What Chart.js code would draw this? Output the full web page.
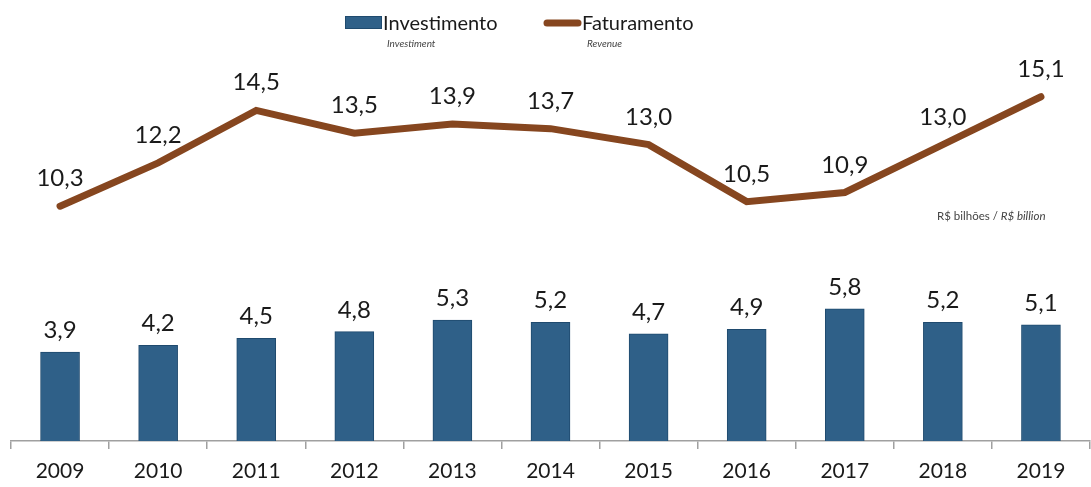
<!DOCTYPE html>
<html>
<head>
<meta charset="utf-8">
<script src="https://cdn.jsdelivr.net/npm/chart.js@4"></script>
<style>
  html, body { margin: 0; padding: 0; background: #fff; }
  #wrap { width: 1091px; height: 487px; position: relative; }
</style>
</head>
<body>
<div id="wrap"><canvas id="chart"></canvas></div>
<script>
var anos = ["2009", "2010", "2011", "2012", "2013", "2014", "2015", "2016", "2017", "2018", "2019"];
var investimento = [3.9, 4.2, 4.5, 4.8, 5.3, 5.2, 4.7, 4.9, 5.8, 5.2, 5.1];
var faturamento = [10.3, 12.2, 14.5, 13.5, 13.9, 13.7, 13.0, 10.5, 10.9, 13.0, 15.1];

var AZUL = "#2f6088";
var MARROM = "#86461f";
var FONTE = "Lato, 'Open Sans', sans-serif";

function fmt(v) {
    return v.toFixed(1).replace(".", ",");
}

// rotulos de valor acima das barras e dos pontos
var rotulos = {
    id: "rotulos",
    afterDatasetsDraw: function (chart) {
        var ctx = chart.ctx;
        ctx.save();
        ctx.font = "24px " + FONTE;
        ctx.fillStyle = "#1a1a1a";
        ctx.textAlign = "center";
        ctx.textBaseline = "alphabetic";
        chart.data.datasets.forEach(function (ds, i) {
            var meta = chart.getDatasetMeta(i);
            var gap = ds.type === "line" ? 20 : 14;
            meta.data.forEach(function (el, j) {
                ctx.fillText(fmt(ds.data[j]), el.x, el.y - gap);
            });
        });
        ctx.restore();
    }
};

// legenda e nota de unidade
var legenda = {
    id: "legenda",
    afterDraw: function (chart) {
        var ctx = chart.ctx;
        ctx.save();
        ctx.fillStyle = AZUL;
        ctx.fillRect(345, 16, 37, 13);
        ctx.strokeStyle = "#1f4a6e";
        ctx.lineWidth = 1;
        ctx.strokeRect(345.5, 16.5, 36, 12);

        ctx.strokeStyle = MARROM;
        ctx.lineWidth = 7;
        ctx.lineCap = "round";
        ctx.beginPath();
        ctx.moveTo(547, 23);
        ctx.lineTo(578, 23);
        ctx.stroke();

        ctx.fillStyle = "#1a1a1a";
        ctx.textAlign = "left";
        ctx.textBaseline = "alphabetic";
        ctx.font = "20px " + FONTE;
        ctx.fillText("Investimento", 383, 30);
        ctx.fillText("Faturamento", 582, 30);

        ctx.fillStyle = "#444";
        ctx.font = "italic 10px " + FONTE;
        ctx.fillText("Investiment", 387, 47);
        ctx.fillText("Revenue", 587, 47);

        ctx.font = "11.5px " + FONTE;
        var t1 = "R$ bilhões / ";
        ctx.fillText(t1, 937, 220);
        var w = ctx.measureText(t1).width;
        ctx.font = "italic 11.5px " + FONTE;
        ctx.fillText("R$ billion", 937 + w, 220);
        ctx.restore();
    }
};

new Chart(document.getElementById("chart"), {
    type: "bar",
    data: {
        labels: anos,
        datasets: [
            {
                type: "line",
                label: "Faturamento",
                data: faturamento,
                borderColor: MARROM,
                borderWidth: 7,
                borderCapStyle: "round",
                borderJoinStyle: "miter",
                pointRadius: 0,
                tension: 0,
                order: 0
            },
            {
                type: "bar",
                label: "Investimento",
                data: investimento,
                backgroundColor: AZUL,
                borderColor: "#1f4a6e",
                borderWidth: 1,
                barThickness: 39,
                order: 1
            }
        ]
    },
    options: {
        responsive: true,
        maintainAspectRatio: false,
        animation: false,
        layout: { padding: { top: 1, left: 11, right: 1, bottom: 0 } },
        plugins: {
            legend: { display: false },
            tooltip: { enabled: false }
        },
        scales: {
            x: {
                offset: true,
                afterFit: function (scale) { scale.height = 46; },
                border: { display: true, color: "#a0a0a0", width: 1.5 },
                grid: {
                    offset: true,
                    drawOnChartArea: false,
                    drawTicks: true,
                    tickLength: 8,
                    color: "#a0a0a0",
                    lineWidth: 1.5
                },
                ticks: {
                    color: "#1a1a1a",
                    padding: 10,
                    font: { family: FONTE, size: 21 }
                }
            },
            y: {
                display: false,
                min: 0,
                max: 19.3
            }
        }
    },
    plugins: [rotulos, legenda]
});
</script>
</body>
</html>
